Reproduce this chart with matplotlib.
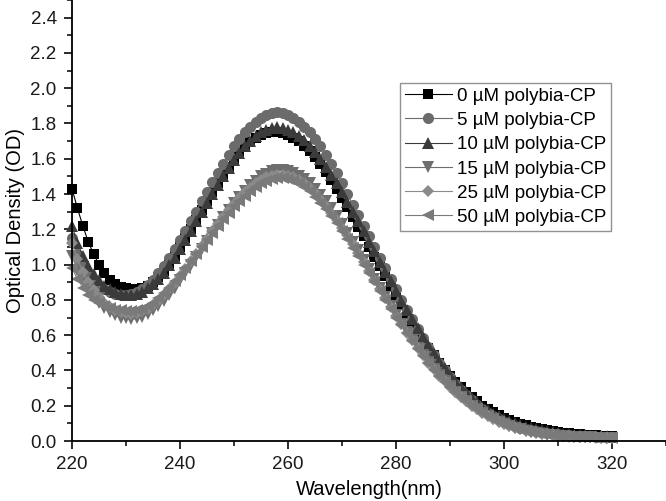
import numpy as np
import matplotlib
matplotlib.use("Agg")
import matplotlib.pyplot as plt
from matplotlib.ticker import MultipleLocator, FormatStrFormatter

plt.rcParams['font.family'] = ['Liberation Sans', 'DejaVu Sans']

# wavelength grid, 1 nm steps
wavelength = list(range(220, 321))

od_0uM = [1.43, 1.32, 1.22, 1.13, 1.06, 1.00, 0.95, 0.915, 0.89, 0.875,
          0.865, 0.86, 0.86, 0.865, 0.88, 0.90, 0.93, 0.965, 1.005, 1.05,
          1.10, 1.15, 1.20, 1.255, 1.31, 1.36, 1.41, 1.46, 1.51, 1.555,
          1.595, 1.635, 1.665, 1.695, 1.715, 1.735, 1.745, 1.75, 1.75, 1.745,
          1.735, 1.72, 1.70, 1.675, 1.645, 1.61, 1.57, 1.525, 1.48, 1.43,
          1.38, 1.325, 1.27, 1.215, 1.16, 1.10, 1.045, 0.99, 0.935, 0.88,
          0.825, 0.77, 0.72, 0.67, 0.62, 0.575, 0.53, 0.485, 0.445, 0.405,
          0.37, 0.335, 0.305, 0.275, 0.25, 0.225, 0.20, 0.18, 0.162, 0.146,
          0.132, 0.119, 0.107, 0.097, 0.088, 0.08, 0.073, 0.067, 0.061, 0.056,
          0.052, 0.048, 0.044, 0.041, 0.038, 0.036, 0.034, 0.032, 0.03, 0.029,
          0.028]

od_5uM = [1.15, 1.06, 1.00, 0.95, 0.91, 0.88, 0.86, 0.845, 0.835, 0.83,
          0.83, 0.835, 0.845, 0.86, 0.885, 0.915, 0.95, 0.99, 1.04, 1.09,
          1.14, 1.19, 1.25, 1.30, 1.36, 1.41, 1.47, 1.52, 1.57, 1.62,
          1.67, 1.71, 1.75, 1.78, 1.81, 1.83, 1.85, 1.86, 1.865, 1.86,
          1.85, 1.83, 1.81, 1.78, 1.75, 1.71, 1.67, 1.62, 1.57, 1.52,
          1.46, 1.40, 1.34, 1.28, 1.22, 1.16, 1.10, 1.04, 0.98, 0.92,
          0.86, 0.80, 0.745, 0.69, 0.635, 0.585, 0.535, 0.49, 0.445, 0.40,
          0.36, 0.325, 0.29, 0.26, 0.23, 0.205, 0.18, 0.16, 0.14, 0.125,
          0.11, 0.097, 0.085, 0.075, 0.067, 0.06, 0.054, 0.049, 0.045, 0.041,
          0.038, 0.035, 0.033, 0.031, 0.029, 0.028, 0.026, 0.025, 0.024, 0.023,
          0.022]

od_10uM = [1.22, 1.12, 1.05, 0.99, 0.945, 0.91, 0.88, 0.86, 0.845, 0.835,
           0.83, 0.83, 0.835, 0.845, 0.865, 0.89, 0.92, 0.955, 0.995, 1.04,
           1.09, 1.14, 1.19, 1.245, 1.30, 1.35, 1.40, 1.45, 1.50, 1.55,
           1.595, 1.635, 1.67, 1.70, 1.73, 1.75, 1.765, 1.775, 1.78, 1.775,
           1.765, 1.75, 1.73, 1.705, 1.675, 1.64, 1.60, 1.555, 1.51, 1.46,
           1.41, 1.355, 1.30, 1.245, 1.19, 1.13, 1.075, 1.015, 0.96, 0.905,
           0.85, 0.795, 0.74, 0.69, 0.64, 0.59, 0.545, 0.50, 0.455, 0.415,
           0.375, 0.34, 0.305, 0.275, 0.245, 0.22, 0.195, 0.175, 0.155, 0.14,
           0.125, 0.112, 0.10, 0.09, 0.081, 0.073, 0.066, 0.06, 0.055, 0.05,
           0.046, 0.042, 0.039, 0.036, 0.034, 0.032, 0.03, 0.028, 0.027, 0.026,
           0.025]

od_15uM = [1.05, 0.97, 0.91, 0.86, 0.82, 0.785, 0.755, 0.73, 0.715, 0.70,
           0.695, 0.69, 0.695, 0.705, 0.72, 0.74, 0.765, 0.795, 0.83, 0.87,
           0.91, 0.955, 1.00, 1.045, 1.09, 1.135, 1.18, 1.225, 1.27, 1.31,
           1.35, 1.385, 1.42, 1.45, 1.475, 1.50, 1.515, 1.53, 1.535, 1.535,
           1.53, 1.52, 1.505, 1.485, 1.46, 1.43, 1.395, 1.36, 1.32, 1.275,
           1.23, 1.18, 1.13, 1.08, 1.025, 0.975, 0.92, 0.87, 0.815, 0.765,
           0.715, 0.665, 0.62, 0.575, 0.53, 0.49, 0.45, 0.41, 0.375, 0.34,
           0.31, 0.28, 0.25, 0.225, 0.20, 0.18, 0.16, 0.14, 0.125, 0.11,
           0.097, 0.085, 0.075, 0.066, 0.058, 0.051, 0.045, 0.04, 0.036, 0.032,
           0.029, 0.027, 0.025, 0.023, 0.022, 0.021, 0.02, 0.019, 0.018, 0.018,
           0.017]

od_25uM = [1.12, 1.03, 0.96, 0.90, 0.855, 0.815, 0.785, 0.76, 0.745, 0.73,
           0.725, 0.72, 0.725, 0.735, 0.75, 0.77, 0.795, 0.825, 0.86, 0.895,
           0.935, 0.975, 1.02, 1.06, 1.105, 1.145, 1.19, 1.23, 1.27, 1.31,
           1.345, 1.38, 1.41, 1.435, 1.46, 1.48, 1.495, 1.505, 1.51, 1.51,
           1.505, 1.495, 1.48, 1.46, 1.435, 1.405, 1.37, 1.335, 1.295, 1.255,
           1.21, 1.165, 1.115, 1.065, 1.015, 0.965, 0.91, 0.86, 0.81, 0.76,
           0.71, 0.665, 0.615, 0.57, 0.53, 0.485, 0.445, 0.41, 0.37, 0.34,
           0.305, 0.275, 0.25, 0.225, 0.20, 0.18, 0.16, 0.14, 0.125, 0.11,
           0.097, 0.086, 0.076, 0.067, 0.059, 0.052, 0.046, 0.041, 0.037, 0.033,
           0.03, 0.028, 0.026, 0.024, 0.023, 0.022, 0.021, 0.02, 0.019, 0.019,
           0.018]

od_50uM = [0.98, 0.92, 0.87, 0.83, 0.80, 0.78, 0.765, 0.755, 0.745, 0.74,
           0.735, 0.735, 0.74, 0.75, 0.765, 0.785, 0.81, 0.84, 0.87, 0.905,
           0.94, 0.98, 1.02, 1.06, 1.10, 1.14, 1.18, 1.22, 1.26, 1.295,
           1.33, 1.36, 1.39, 1.415, 1.44, 1.46, 1.475, 1.485, 1.49, 1.49,
           1.485, 1.475, 1.46, 1.44, 1.415, 1.385, 1.35, 1.315, 1.275, 1.235,
           1.19, 1.145, 1.095, 1.05, 1.00, 0.95, 0.90, 0.85, 0.80, 0.75,
           0.70, 0.655, 0.61, 0.565, 0.52, 0.48, 0.44, 0.405, 0.37, 0.335,
           0.305, 0.275, 0.25, 0.225, 0.20, 0.18, 0.16, 0.14, 0.125, 0.11,
           0.097, 0.086, 0.076, 0.067, 0.059, 0.052, 0.046, 0.041, 0.037, 0.033,
           0.03, 0.028, 0.026, 0.024, 0.023, 0.022, 0.021, 0.02, 0.019, 0.019,
           0.018]

labels = ["0 µM polybia-CP", "5 µM polybia-CP", "10 µM polybia-CP",
          "15 µM polybia-CP", "25 µM polybia-CP", "50 µM polybia-CP"]

series = [od_0uM, od_5uM, od_10uM, od_15uM, od_25uM, od_50uM]
# (marker, color, markersize)
styles = [("s", "#000000", 6.5),
          ("o", "#6b6b6b", 8.0),
          ("^", "#3b3b3b", 8.2),
          ("v", "#6e6e6e", 8.2),
          ("D", "#8a8a8a", 6.6),
          ("<", "#7a7a7a", 8.2)]

fig = plt.figure(figsize=(6.66, 5.01), dpi=100)
ax = fig.add_axes([72 / 666, 60 / 501, 594 / 666, 441 / 501])

for vals, lab, (mk, col, ms) in zip(series, labels, styles):
    ax.plot(wavelength, vals, color=col, lw=0.8, marker=mk, ms=ms,
            markeredgewidth=0, label=lab, clip_on=False)

ax.set_xlim(220, 330)
ax.set_ylim(0, 2.5)
ax.xaxis.set_minor_locator(MultipleLocator(10))
ax.yaxis.set_minor_locator(MultipleLocator(0.1))
ax.set_yticks(np.arange(0, 2.41, 0.2))
ax.set_xticks(np.arange(220, 321, 20))
ax.yaxis.set_major_formatter(FormatStrFormatter('%.1f'))

for side in ("top", "right"):
    ax.spines[side].set_visible(False)
for side in ("left", "bottom"):
    ax.spines[side].set_linewidth(1.3)
ax.tick_params(which="major", direction="out", length=6, width=1.3,
               labelsize=13.5, colors="#1a1a1a", pad=5)
ax.tick_params(which="minor", direction="out", length=3.5, width=1.1)

ax.set_xlabel("Wavelength(nm)", fontsize=14.5, labelpad=5)
ax.set_ylabel("Optical Density (OD)", fontsize=14.5, labelpad=4)

leg = ax.legend(loc="upper left", bbox_to_anchor=(400 / 666, 1 - 83 / 501),
                bbox_transform=fig.transFigure, fontsize=13.5, frameon=True,
                fancybox=False, borderaxespad=0, handlelength=2.5,
                handletextpad=0.3, labelspacing=0.38, borderpad=0.25)
leg.get_frame().set_edgecolor("#777777")
leg.get_frame().set_linewidth(1.0)

fig.savefig("out.png", dpi=100)
